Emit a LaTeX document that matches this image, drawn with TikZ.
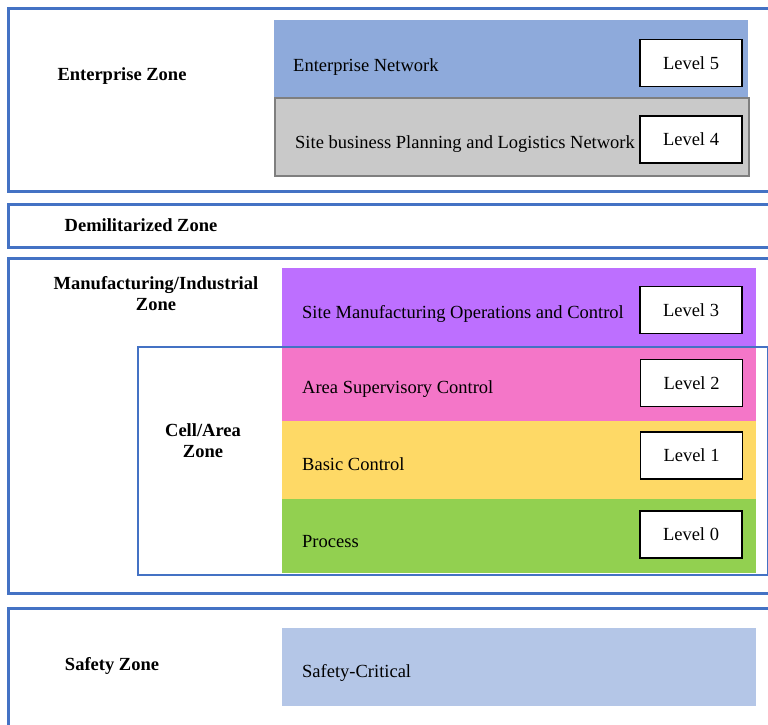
\documentclass[tikz,border=0pt]{standalone}
\usepackage{fontspec}
\setmainfont{Liberation Serif}
\usepackage{tikz}
\usetikzlibrary{positioning}
\definecolor{zoneblue}{HTML}{4472C4}
\definecolor{entblue}{HTML}{8EAADB}
\definecolor{sitegrey}{HTML}{C9C9C9}
\definecolor{siteedge}{HTML}{7F7F7F}
\definecolor{opspurple}{HTML}{BD6FFF}
\definecolor{suppink}{HTML}{F476C8}
\definecolor{basicyellow}{HTML}{FED966}
\definecolor{procgreen}{HTML}{92D050}
\definecolor{safeblue}{HTML}{B4C6E7}

\begin{document}
\begin{tikzpicture}[x=1pt, y=-1pt, font=\fontsize{18.5}{21}\selectfont,
    zone/.style={draw=zoneblue, line width=3pt, anchor=north west, inner sep=0pt},
    band/.style={anchor=north west, inner sep=0pt, minimum width=474pt},
    bandtext/.style={anchor=base west, inner sep=0pt},
    levelbox/.style={draw=black, line width=1.5pt, fill=white,
        minimum width=102pt, minimum height=47pt},
    zonelabel/.style={font=\fontsize{18.5}{21}\selectfont\bfseries, align=center, anchor=base, inner sep=0pt}]
    \useasboundingbox (0,0) rectangle (768,725);
    \clip (0,0) rectangle (768,725);

    % Zones
    \node[zone, minimum width=783pt, minimum height=183pt] (entzone) at (7,7) {};
    \node[zone, minimum width=783pt, minimum height=43pt] (dmz) at (7,203) {};
    \node[zone, minimum width=783pt, minimum height=335pt] (mfgzone) at (7,257) {};
    \node[zone, minimum width=783pt, minimum height=133pt] (safezone) at (7,607) {};

    % Enterprise zone
    \node[band, fill=entblue, minimum height=77pt] (entnet) at (274,20) {};
    \node[band, fill=sitegrey, draw=siteedge, line width=2pt, minimum height=78pt] (sitenet) at (274,97) {};
    \node[bandtext] (entnettext) at (293,71) {Enterprise Network};
    \node[bandtext] (sitenettext) at (295,148) {Site business Planning and Logistics Network};
    \node[levelbox] (L5) at (691,63) {Level 5};
    \node[levelbox] (L4) at (691,139.5) {Level 4};

    % Manufacturing zone
    \node[band, fill=opspurple, minimum height=79pt] (siteops) at (282,268) {};
    \node[band, fill=suppink, minimum height=74pt] (areasup) at (282,347) {};
    \node[band, fill=basicyellow, minimum height=78pt] (basic) at (282,421) {};
    \node[band, fill=procgreen, minimum height=74pt] (process) at (282,499) {};
    \node[draw=zoneblue, line width=2pt, anchor=north west, inner sep=0pt,
          minimum width=630pt, minimum height=228pt] (cellzone) at (137,346) {};

    \node[bandtext] (siteopstext) at (302,318) {Site Manufacturing Operations and Control};
    \node[bandtext] (areasuptext) at (302,393) {Area Supervisory Control};
    \node[bandtext] (basictext) at (302,470) {Basic Control};
    \node[bandtext] (processtext) at (302,547) {Process};
    \node[levelbox] (L3) at (691,310) {Level 3};
    \node[levelbox] (L2) at (691.5,383) {Level 2};
    \node[levelbox] (L1) at (691.5,455.5) {Level 1};
    \node[levelbox] (L0) at (691,534.5) {Level 0};

    % Safety zone
    \node[band, fill=safeblue, minimum height=78pt] (safecrit) at (282,628) {};
    \node[bandtext] (safecrittext) at (302,677) {Safety-Critical};

    % Zone labels
    \node[zonelabel] (entlabel) at (122,81) {Enterprise Zone};
    \node[zonelabel] (dmzlabel) at (141,231) {Demilitarized Zone};
    \node[zonelabel] (mfglabel) at (156,310) {Manufacturing/Industrial\\Zone};
    \node[zonelabel] (celllabel) at (203,457) {Cell/Area\\Zone};
    \node[zonelabel] (safelabel) at (112,670) {Safety Zone};

\end{tikzpicture}
\end{document}
